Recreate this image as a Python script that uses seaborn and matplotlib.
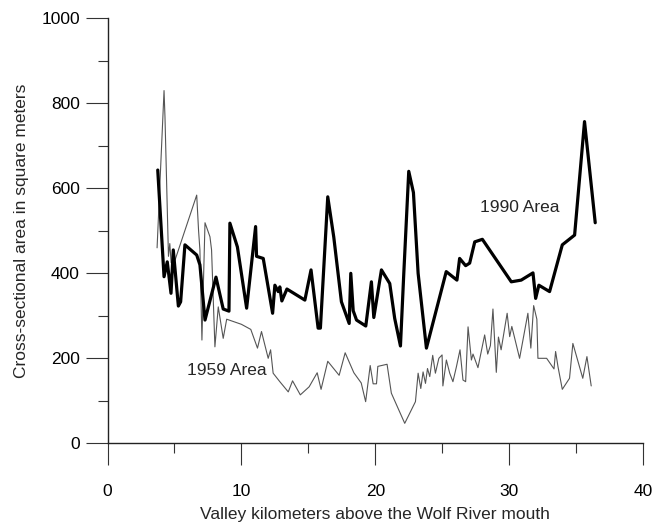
import matplotlib
matplotlib.use("Agg")
import matplotlib.pyplot as plt
import seaborn as sns
import pandas as pd
from matplotlib.ticker import MultipleLocator

# 1990 cross-sectional area (thick black line)
km_1990 = [3.75, 4.22, 4.46, 4.74, 4.91, 5.29, 5.46, 5.78, 6.66, 6.9, 7.28, 8.1, 8.64, 9.07, 9.14,
           9.7, 10.39, 11.06, 11.13, 11.63, 12.33, 12.5, 12.75, 12.87, 13.02, 13.4, 14.74, 15.2,
           15.73, 15.9, 16.45, 16.9, 17.47, 18.05, 18.17, 18.35, 18.6, 19.29, 19.71, 19.89, 20.46,
           21.08, 21.45, 21.88, 22.13, 22.5, 22.85, 23.2, 23.82, 25.3, 26.1, 26.3, 26.75, 27.05,
           27.43, 28.0, 30.16, 30.9, 31.78, 31.98, 32.22, 33.02, 33.97, 34.89, 35.63, 36.43]
area_1990 = [643, 392, 427, 353, 455, 323, 333, 467, 443, 420, 290, 391, 316, 311, 518,
             462, 318, 510, 440, 435, 306, 372, 357, 368, 335, 363, 337, 408,
             271, 271, 580, 485, 333, 282, 400, 312, 290, 276, 380, 296, 408,
             376, 294, 229, 400, 640, 590, 400, 224, 404, 384, 435, 418, 424,
             474, 480, 380, 384, 401, 341, 372, 357, 467, 490, 757, 519]

# 1959 cross-sectional area (thin gray line)
km_1959 = [3.7, 4.22, 4.29, 4.42, 4.55, 4.65, 4.75, 5.04, 6.66, 6.8, 6.9, 7.05, 7.28, 7.65, 7.77,
           8.02, 8.27, 8.64, 8.9, 10.0, 10.7, 11.2, 11.5, 12.0, 12.18, 12.37, 12.87, 13.5, 13.82,
           14.4, 15.06, 15.66, 15.95, 16.45, 17.3, 17.75, 18.4, 18.95, 19.28, 19.62, 19.84, 20.09,
           20.19, 20.88, 21.2, 22.2, 23.0, 23.2, 23.4, 23.57, 23.75, 23.9, 24.07, 24.29, 24.49,
           24.75, 24.99, 25.05, 25.31, 25.56, 25.8, 26.06, 26.33, 26.55, 26.75, 26.93, 27.18,
           27.3, 27.67, 28.17, 28.4, 28.6, 28.79, 29.04, 29.2, 29.4, 29.85, 30.04, 30.2, 30.78,
           31.4, 31.62, 31.83, 32.07, 32.15, 32.8, 33.35, 33.47, 33.65, 33.97, 34.51, 34.76,
           35.5, 35.81, 36.13]
area_1959 = [460, 830, 768, 604, 440, 470, 425, 431, 584, 500, 455, 243, 519, 486, 455,
             227, 321, 247, 292, 280, 268, 224, 263, 200, 220, 165, 145, 121, 147,
             114, 133, 166, 127, 193, 160, 213, 166, 142, 98, 183, 140, 140,
             181, 186, 118, 47, 98, 165, 129, 168, 141, 176, 157, 207, 165,
             200, 208, 135, 196, 165, 145, 180, 220, 149, 145, 274, 196,
             210, 178, 255, 210, 230, 316, 167, 250, 220, 306, 251, 275, 200,
             306, 224, 324, 292, 200, 200, 175, 216, 180, 127, 153, 235,
             153, 204, 135]

x_ticks = [0, 10, 20, 30, 40]
y_ticks = [0, 200, 400, 600, 800, 1000]
label_1990 = "1990 Area"
label_1959 = "1959 Area"
x_title = "Valley kilometers above the Wolf River mouth"
y_title = "Cross-sectional area in square meters"

sns.set_style("ticks")
plt.rcParams["font.family"] = ["Liberation Sans", "DejaVu Sans"]

fig = plt.figure(figsize=(6.68, 5.25), dpi=100)
ax = fig.add_axes([0.161, 0.1556, 0.8016, 0.8095])

df90 = pd.DataFrame({"km": km_1990, "area": area_1990})
df59 = pd.DataFrame({"km": km_1959, "area": area_1959})

sns.lineplot(data=df59, x="km", y="area", ax=ax, estimator=None, sort=False,
             color="#555555", linewidth=0.8)
sns.lineplot(data=df90, x="km", y="area", ax=ax, estimator=None, sort=False,
             color="black", linewidth=2.3)

ax.set_xlim(0, 40)
ax.set_ylim(0, 1000)
ax.set_xticks(x_ticks)
ax.set_yticks(y_ticks)
ax.xaxis.set_minor_locator(MultipleLocator(5))
ax.yaxis.set_minor_locator(MultipleLocator(100))

for s in ["top", "right"]:
    ax.spines[s].set_visible(False)
for s in ["left", "bottom"]:
    ax.spines[s].set_color("#222222")
    ax.spines[s].set_linewidth(1.0)

ax.tick_params(axis="both", which="major", direction="out", length=16, width=0.8,
               color="#333333", labelsize=12.5, labelcolor="black",
               bottom=True, left=True)
ax.tick_params(axis="both", which="minor", direction="out", length=7.5, width=0.8,
               color="#333333", bottom=True, left=True)
ax.tick_params(axis="x", which="major", pad=13)
ax.tick_params(axis="y", which="major", pad=4)

ax.set_xlabel(x_title, fontsize=12.5, labelpad=6)
ax.set_ylabel(y_title, fontsize=12.5, labelpad=9)

ax.text(30.8, 554, label_1990, fontsize=12.5, ha="center", va="center")
ax.text(8.9, 171, label_1959, fontsize=12.5, ha="center", va="center")

ax.grid(False)
fig.savefig("out.png", dpi=100)
